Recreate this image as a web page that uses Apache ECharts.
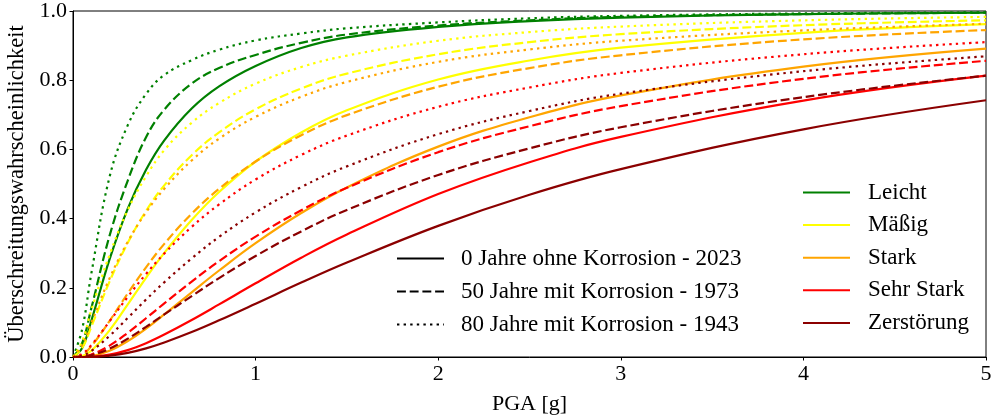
<!DOCTYPE html>
<html>
<head>
<meta charset="utf-8">
<script src="https://cdn.jsdelivr.net/npm/echarts@6/dist/echarts.min.js"></script>
<style>
html,body{margin:0;padding:0;background:#fff;}
#chart{width:998px;height:420px;}
</style>
</head>
<body>
<div id="chart"></div>
<script>
// PGA sample points [g]
const pga = [0, 0.05, 0.1, 0.2, 0.3, 0.4, 0.5, 0.65, 0.8, 1, 1.25, 1.5, 2, 2.5, 3, 4, 5];

// Damage states and scenarios
const damageStates = ['Leicht', 'Mäßig', 'Stark', 'Sehr Stark', 'Zerstörung'];
const scenarios = ['0 Jahre ohne Korrosion - 2023', '50 Jahre mit Korrosion - 1973', '80 Jahre mit Korrosion - 1943'];
const yTicks = [0, 0.2, 0.4, 0.6, 0.8, 1.0];
const xTicks = [0, 1, 2, 3, 4, 5];

// Leicht
const leicht0  = [0, 0.026, 0.104, 0.282, 0.429, 0.541, 0.626, 0.718, 0.782, 0.841, 0.893, 0.924, 0.954, 0.971, 0.981, 0.991, 0.995];
const leicht50 = [0, 0.04, 0.14, 0.35, 0.51, 0.635, 0.715, 0.79, 0.835, 0.873, 0.908, 0.932, 0.958, 0.973, 0.983, 0.991, 0.995];
const leicht80 = [0, 0.08, 0.24, 0.52, 0.67, 0.76, 0.815, 0.858, 0.888, 0.915, 0.935, 0.95, 0.967, 0.979, 0.986, 0.993, 0.996];
// Mäßig
const massig0  = [0, 0.003, 0.018, 0.077, 0.152, 0.229, 0.301, 0.396, 0.477, 0.565, 0.649, 0.713, 0.802, 0.857, 0.894, 0.937, 0.962];
const massig50 = [0, 0.026, 0.087, 0.218, 0.330, 0.422, 0.496, 0.583, 0.649, 0.716, 0.776, 0.819, 0.875, 0.910, 0.933, 0.959, 0.973];
const massig80 = [0, 0.045, 0.135, 0.295, 0.425, 0.522, 0.598, 0.677, 0.734, 0.790, 0.838, 0.871, 0.914, 0.939, 0.955, 0.973, 0.983];
// Stark
const stark0  = [0, 0, 0.002, 0.018, 0.046, 0.082, 0.123, 0.187, 0.250, 0.329, 0.416, 0.490, 0.608, 0.693, 0.756, 0.839, 0.891];
const stark50 = [0, 0.006, 0.031, 0.104, 0.184, 0.259, 0.327, 0.414, 0.486, 0.565, 0.641, 0.699, 0.781, 0.835, 0.872, 0.918, 0.945];
const stark80 = [0, 0.034, 0.098, 0.227, 0.333, 0.418, 0.486, 0.568, 0.631, 0.694, 0.752, 0.795, 0.853, 0.889, 0.914, 0.944, 0.963];
// Sehr Stark
const sehrStark0  = [0, 0, 0.001, 0.007, 0.020, 0.040, 0.065, 0.107, 0.152, 0.213, 0.287, 0.354, 0.471, 0.563, 0.636, 0.741, 0.813];
const sehrStark50 = [0, 0.001, 0.007, 0.033, 0.070, 0.112, 0.155, 0.218, 0.277, 0.348, 0.424, 0.489, 0.592, 0.667, 0.725, 0.804, 0.856];
const sehrStark80 = [0, 0.009, 0.034, 0.103, 0.174, 0.240, 0.299, 0.376, 0.441, 0.513, 0.584, 0.640, 0.723, 0.779, 0.821, 0.875, 0.910];
// Zerstörung
const zerst0  = [0, 0, 0, 0.004, 0.012, 0.025, 0.042, 0.072, 0.106, 0.154, 0.215, 0.273, 0.379, 0.469, 0.543, 0.658, 0.742];
const zerst50 = [0, 0.001, 0.005, 0.024, 0.053, 0.087, 0.123, 0.176, 0.228, 0.292, 0.363, 0.425, 0.526, 0.603, 0.664, 0.751, 0.813];
const zerst80 = [0, 0.004, 0.017, 0.061, 0.113, 0.166, 0.216, 0.285, 0.347, 0.418, 0.491, 0.551, 0.644, 0.711, 0.761, 0.826, 0.869];

const valuesByState = [
  [leicht0, leicht50, leicht80],
  [massig0, massig50, massig80],
  [stark0, stark50, stark80],
  [sehrStark0, sehrStark50, sehrStark80],
  [zerst0, zerst50, zerst80]
];

const colors = ['#008000', '#ffff00', '#ffa500', '#ff0000', '#8b0000'];
const dashTypes = ['solid', [8.9, 3.8], [2.4, 4.2]];
const LW = 2.2;
const FONT = 'Liberation Serif, Times New Roman, serif';

const series = [];
for (let s = 0; s < scenarios.length; s++) {
  for (let d = 0; d < damageStates.length; d++) {
    const vals = valuesByState[d][s];
    series.push({
      type: 'line',
      name: damageStates[d] + ' / ' + scenarios[s],
      data: pga.map((x, i) => [x, vals[i]]),
      showSymbol: false,
      symbol: 'none',
      smooth: 0.4,
      silent: true,
      lineStyle: { color: colors[d], width: LW, type: dashTypes[s] },
      itemStyle: { color: colors[d] },
      z: 2
    });
  }
}
// legend proxies (no data)
damageStates.forEach((n, d) => series.push({
  type: 'line', name: n, data: [], symbol: 'none',
  lineStyle: { color: colors[d], width: LW, type: 'solid' }, itemStyle: { color: colors[d] }
}));
scenarios.forEach((n, s) => series.push({
  type: 'line', name: n, data: [], symbol: 'none',
  lineStyle: { color: '#000', width: LW, type: dashTypes[s] }, itemStyle: { color: '#000' }
}));

const chart = echarts.init(document.getElementById('chart'), null, { renderer: 'canvas' });
chart.setOption({
  animation: false,
  backgroundColor: '#fff',
  textStyle: { fontFamily: FONT },
  grid: { left: 73, right: 12, top: 11, bottom: 63, show: true, borderColor: '#000', borderWidth: 1,
          backgroundColor: 'transparent', containLabel: false, outerBoundsMode: 'none' },
  legend: [
    {
      data: scenarios, orient: 'vertical', left: 396, top: 247, padding: 0,
      itemWidth: 47, itemHeight: 23, itemGap: 10, selectedMode: false,
      itemStyle: { opacity: 0, borderWidth: 0 },
      textStyle: { fontFamily: FONT, fontSize: 23, color: '#000', lineHeight: 23, padding: [0, 0, 0, 12] }
    },
    {
      data: damageStates, orient: 'vertical', left: 802, top: 181, padding: 0,
      itemWidth: 47, itemHeight: 23, itemGap: 9.6, selectedMode: false,
      itemStyle: { opacity: 0, borderWidth: 0 },
      textStyle: { fontFamily: FONT, fontSize: 23, color: '#000', lineHeight: 23, padding: [0, 0, 0, 13] }
    }
  ],
  xAxis: {
    type: 'value', min: xTicks[0], max: xTicks[xTicks.length - 1], interval: 1,
    name: 'PGA [g]', nameLocation: 'middle', nameGap: 36,
    nameTextStyle: { fontFamily: FONT, fontSize: 22, color: '#000' },
    axisLine: { show: true, lineStyle: { color: '#000', width: 1 } },
    axisTick: { show: true, length: 3.5, lineStyle: { color: '#000', width: 1 } },
    axisLabel: { fontFamily: FONT, fontSize: 22, color: '#000', margin: 6 },
    splitLine: { show: false }
  },
  yAxis: {
    type: 'value', min: yTicks[0], max: yTicks[yTicks.length - 1], interval: 0.2,
    name: 'Überschreitungswahrscheinlichkeit', nameLocation: 'middle', nameGap: 44,
    nameTextStyle: { fontFamily: FONT, fontSize: 22.5, color: '#000' },
    axisLine: { show: true, lineStyle: { color: '#000', width: 1 } },
    axisTick: { show: true, length: 3.5, lineStyle: { color: '#000', width: 1 } },
    axisLabel: { fontFamily: FONT, fontSize: 22, color: '#000', margin: 6, formatter: v => v.toFixed(1) },
    splitLine: { show: false }
  },
  series: series
});
</script>
</body>
</html>
